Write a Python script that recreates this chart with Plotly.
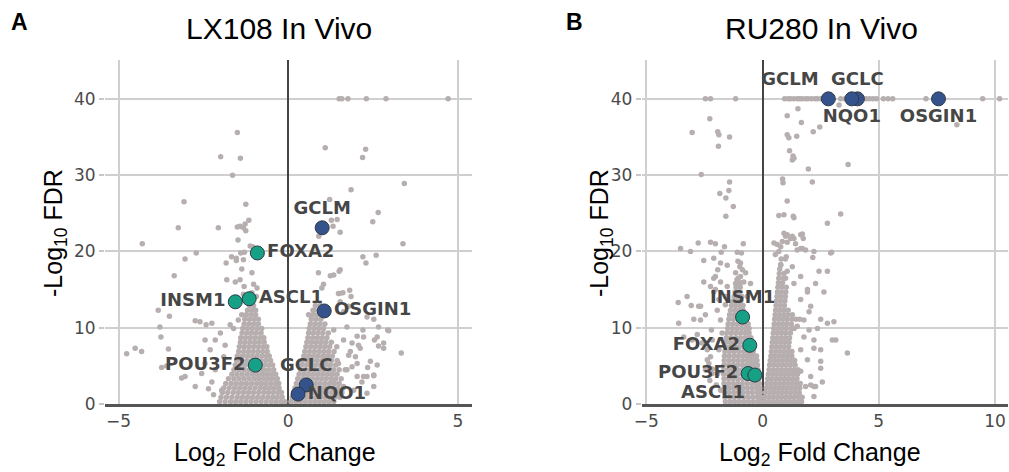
import plotly.graph_objects as go

# ---------------- DATA ----------------
# Highlighted genes: LX108 (panel A)
lx_genes = ["GCLM", "FOXA2", "INSM1", "ASCL1", "OSGIN1", "POU3F2", "GCLC", "NQO1"]
lx_lfc = [1.0, -0.91, -1.56, -1.15, 1.06, -0.97, 0.53, 0.29]
lx_fdr = [23.1, 19.8, 13.4, 13.8, 12.2, 5.1, 2.5, 1.3]
lx_group = ["nrf2", "ne", "ne", "ne", "nrf2", "ne", "nrf2", "nrf2"]
lx_textpos = ["top center", "middle right", "middle left", "middle right",
              "middle right", "middle left", "top center", "middle right"]

# Highlighted genes: RU280 (panel B)
ru_genes = ["GCLM", "GCLC", "NQO1", "OSGIN1", "INSM1", "FOXA2", "POU3F2", "ASCL1"]
ru_lfc = [2.83, 4.08, 3.84, 7.57, -0.86, -0.55, -0.62, -0.33]
ru_fdr = [40, 40, 40, 40, 11.4, 7.7, 4.0, 3.8]
ru_group = ["nrf2", "nrf2", "nrf2", "nrf2", "ne", "ne", "ne", "ne"]
ru_textpos = ["top left", "top center", "bottom center", "bottom center",
              "top center", "middle left", "middle left", "bottom left"]

# Background genes LX108: scattered outliers (log2FC, -log10 FDR)
lx_bg_outliers = [
    (1.50, 40), (1.58, 40), (1.76, 40), (2.30, 40), (2.88, 40), (4.71, 40),
    (-1.50, 35.6), (1.09, 33.6), (2.28, 33.4), (-1.99, 32.4), (-1.41, 32.2), (2.19, 32.3),
    (-1.64, 30.0), (1.85, 28.1), (3.42, 28.9), (-3.07, 26.5), (-1.25, 26.2), (1.22, 26.8),
    (2.65, 25.1), (2.49, 23.9), (1.44, 24.2), (1.27, 24.1), (1.32, 23.3), (1.53, 22.5),
    (0.90, 22.0), (-3.24, 23.1), (-2.06, 23.1), (-1.50, 23.2), (-1.42, 23.3), (-1.32, 23.1),
    (-1.25, 22.7), (-1.27, 23.6), (-1.16, 24.1), (-1.48, 21.5), (-4.30, 21.0), (3.38, 21.0),
    (-2.71, 19.8), (-3.04, 19.0), (-1.67, 19.3), (-1.53, 19.1), (-1.40, 19.8), (-1.29, 19.9),
    (-1.12, 20.7), (-1.04, 20.6), (2.20, 19.3), (2.59, 19.5), (-1.83, 18.5), (-1.53, 18.8),
    (-1.32, 18.9), (-1.37, 17.7), (-1.07, 17.2), (2.29, 18.5), (-3.36, 16.8), (0.89, 17.2),
    (1.34, 16.9), (1.50, 17.4), (-1.81, 16.3), (-1.56, 16.0), (-1.42, 16.3), (-1.30, 15.4),
    (-1.02, 15.7), (-0.92, 15.2), (-1.32, 14.4), (-1.07, 14.6), (-0.94, 14.1), (-3.83, 12.3),
    (-3.50, 11.5), (1.51, 14.5), (1.81, 14.9), (0.60, 11.7), (0.73, 12.3), (-2.74, 10.9),
    (-2.60, 10.8), (-2.42, 10.4), (-2.25, 10.6), (-3.78, 10.1), (-3.75, 8.8), (-3.53, 7.2),
    (-4.76, 6.6), (-4.51, 7.3), (-4.32, 6.9), (-3.73, 4.8), (-3.58, 5.0), (2.20, 9.7),
    (2.54, 8.4), (2.66, 7.6), (2.81, 7.3), (2.93, 9.7), (3.33, 6.7), (2.32, 3.6), (2.52, 3.7),
    (-3.04, 3.6), (-3.14, 3.4), (1.24, 16.8), (1.53, 17.6), (1.04, 15.7), (0.99, 15.2),
    (1.48, 14.5), (1.61, 14.6), (1.85, 14.1), (1.53, 13.4), (1.78, 12.8), (1.63, 12.1),
    (2.32, 11.4), (2.52, 11.1), (2.66, 10.1), (2.81, 8.0), (2.96, 9.6), (2.62, 8.8),
    (2.03, 8.9), (2.22, 8.8), (1.88, 8.0), (2.07, 7.7), (1.78, 6.4), (1.98, 6.2), (2.12, 7.3),
    (2.42, 5.6), (2.62, 5.1), (2.52, 3.8), (2.22, 3.6), (2.34, 4.8), (1.68, 4.5), (1.88, 4.9),
    (2.03, 3.6), (1.34, 9.7), (1.73, 10.1), (1.43, 7.5), (1.63, 8.4), (1.83, 6.9), (1.48, 5.3),
    (1.73, 4.5), (2.03, 5.3), (1.34, 3.1), (1.63, 2.3), (1.93, 1.8), (2.17, 2.9), (2.32, 1.4),
    (1.53, 1.0), (1.24, 0.8), (2.52, 2.3),
    (-2.15, 8.4), (-2.0, 9.3), (-1.86, 7.7), (-2.3, 7.1), (-2.45, 5.3), (-2.15, 4.5),
    (-2.55, 4.0), (-2.25, 2.9), (-1.96, 1.8), (-2.74, 2.3), (-1.61, 9.9), (-1.71, 10.4),
    (-1.47, 11.0), (-1.37, 11.7), (-2.45, 8.4), (-1.9, 6.2), (-2.2, 1.2), (-2.35, 2.0),
]

# Background genes LX108: dense core, rows of (-log10 FDR, [log2FC ...])
lx_bg_core = [
    (0.3, [-2.02, -1.86, -1.7, -1.55, -1.4, -1.25, -1.1, -0.95, -0.8, -0.65, -0.5, -0.36, -0.22, -0.1,
           0.08, 0.22, 0.36, 0.5, 0.64, 0.78, 0.92, 1.06, 1.2, 1.34]),
    (0.9, [-1.98, -1.82, -1.66, -1.5, -1.35, -1.2, -1.05, -0.9, -0.75, -0.6, -0.46, -0.32, -0.18,
           0.12, 0.26, 0.4, 0.54, 0.68, 0.82, 0.96, 1.1, 1.24, 1.38, 1.52]),
    (1.5, [-1.94, -1.78, -1.62, -1.47, -1.32, -1.17, -1.02, -0.87, -0.72, -0.58, -0.44, -0.3, -0.2,
           0.16, 0.3, 0.44, 0.58, 0.72, 0.86, 1.0, 1.14, 1.28, 1.42, 1.58]),
    (2.1, [-1.9, -1.74, -1.58, -1.43, -1.28, -1.13, -0.98, -0.83, -0.69, -0.55, -0.41, -0.27,
           0.2, 0.34, 0.48, 0.62, 0.76, 0.9, 1.04, 1.18, 1.32, 1.46, 1.62]),
    (2.7, [-1.84, -1.68, -1.53, -1.38, -1.23, -1.08, -0.93, -0.79, -0.65, -0.51, -0.37, -0.28,
           0.24, 0.38, 0.52, 0.66, 0.8, 0.94, 1.08, 1.22, 1.36, 1.5]),
    (3.3, [-1.76, -1.6, -1.45, -1.3, -1.15, -1.0, -0.86, -0.72, -0.58, -0.45, -0.32,
           0.28, 0.42, 0.56, 0.7, 0.84, 0.98, 1.12, 1.26, 1.4, 1.56]),
    (3.9, [-1.66, -1.51, -1.36, -1.21, -1.06, -0.92, -0.78, -0.64, -0.5, -0.37,
           0.32, 0.46, 0.6, 0.74, 0.88, 1.02, 1.16, 1.3, 1.44]),
    (4.5, [-1.6, -1.45, -1.3, -1.15, -1.0, -0.86, -0.72, -0.58, -0.43,
           0.36, 0.5, 0.64, 0.78, 0.92, 1.06, 1.2, 1.34, 1.5]),
    (5.1, [-1.56, -1.41, -1.26, -1.11, -0.97, -0.83, -0.69, -0.55, -0.46,
           0.4, 0.54, 0.68, 0.82, 0.96, 1.1, 1.24, 1.4]),
    (5.7, [-1.52, -1.37, -1.22, -1.08, -0.94, -0.8, -0.66, -0.52,
           0.43, 0.57, 0.71, 0.85, 0.99, 1.13, 1.27, 1.44]),
    (6.3, [-1.5, -1.35, -1.2, -1.06, -0.92, -0.78, -0.64, -0.56,
           0.46, 0.6, 0.74, 0.88, 1.02, 1.16, 1.3]),
    (6.9, [-1.46, -1.31, -1.17, -1.03, -0.89, -0.75, -0.62,
           0.49, 0.63, 0.77, 0.91, 1.05, 1.19, 1.35]),
    (7.5, [-1.44, -1.3, -1.16, -1.02, -0.88, -0.74, -0.63,
           0.52, 0.66, 0.8, 0.94, 1.08, 1.22]),
    (8.1, [-1.41, -1.27, -1.13, -0.99, -0.85, -0.71, 0.55, 0.69, 0.83, 0.97, 1.11, 1.27]),
    (8.7, [-1.4, -1.26, -1.12, -0.98, -0.84, -0.72, 0.58, 0.72, 0.86, 1.0, 1.14]),
    (9.3, [-1.36, -1.22, -1.08, -0.94, -0.8, 0.6, 0.74, 0.88, 1.02, 1.18]),
    (9.9, [-1.34, -1.2, -1.06, -0.92, -0.78, 0.62, 0.76, 0.9, 1.04]),
    (10.5, [-1.3, -1.16, -1.02, -0.88, 0.65, 0.79, 0.93, 1.08]),
    (11.1, [-1.28, -1.14, -1.0, -0.88, 0.68, 0.82, 0.96]),
    (11.7, [-1.24, -1.1, -0.96, 0.72, 0.86, 1.0]),
    (12.3, [-1.2, -1.06, -0.96, 0.76, 0.9]),
    (12.9, [-1.14, -1.02, 0.8, 0.94]),
]

# Background genes RU280: scattered outliers
ru_bg_outliers = [
    (-2.46, 40), (-2.24, 40), (-1.16, 40), (0.95, 40), (1.1, 40), (1.2, 40), (1.35, 40),
    (1.5, 40), (1.6, 40), (1.7, 40), (1.85, 40), (1.95, 40), (2.1, 40), (2.25, 40), (2.35, 40),
    (2.5, 40), (2.6, 40), (3.36, 40), (3.55, 40), (3.7, 40), (4.3, 40), (4.45, 40), (4.6, 40),
    (4.75, 40), (4.9, 40), (5.2, 40), (5.4, 40), (5.6, 40), (7.03, 40), (9.47, 40), (10.2, 40),
    (3.29, 39.2), (1.52, 38.7), (1.06, 37.8), (-2.27, 37.4), (1.67, 36.9), (2.46, 36.3),
    (2.18, 35.7), (8.36, 36.6), (-3.03, 35.6), (-1.93, 35.7), (-1.88, 35.3), (-1.42, 35.0),
    (1.06, 35.3), (1.13, 34.9), (1.47, 35.1), (-1.90, 33.8), (1.16, 33.2), (1.31, 32.5),
    (1.28, 32.0), (1.35, 32.2), (1.97, 30.8), (3.68, 31.4), (-2.64, 30.1), (0.86, 29.5),
    (0.88, 29.0), (2.14, 29.1), (-1.42, 29.1), (-1.45, 28.0), (-1.84, 27.6), (-1.58, 27.0),
    (-1.26, 25.9), (-1.58, 24.6), (1.06, 26.6), (0.70, 24.7), (0.92, 24.8), (1.32, 24.6),
    (1.35, 24.4), (3.36, 24.9), (2.79, 23.7), (0.92, 22.4), (1.06, 22.2), (1.28, 22.0),
    (1.71, 22.3), (1.35, 21.7), (-3.53, 20.4), (-3.10, 20.0), (-2.77, 21.1), (-2.24, 21.2),
    (-2.03, 21.0), (-1.64, 20.6), (-1.78, 19.9), (-1.09, 19.9), (-0.83, 21.0), (-0.91, 19.8),
    (0.63, 20.9), (0.85, 21.3), (0.99, 22.0), (1.21, 21.7), (1.64, 22.2), (1.75, 21.7),
    (1.49, 20.2), (1.71, 20.4), (2.21, 20.0), (2.97, 19.9), (1.02, 19.3), (2.16, 19.2),
    (-2.53, 18.8), (-2.10, 19.1), (-1.81, 18.5), (-1.52, 18.2), (-1.06, 18.7), (-0.98, 18.0),
    (-1.16, 17.2), (-0.87, 17.6), (-0.95, 16.7), (-0.81, 16.0), (-1.16, 15.8), (-1.93, 17.6),
    (-2.03, 16.7), (-1.81, 16.0), (-2.24, 15.4), (-2.53, 16.0), (-2.10, 14.7), (-3.63, 13.3),
    (-3.25, 14.1), (-3.07, 12.9), (-2.75, 12.8), (-3.61, 10.6), (-2.96, 11.1), (-2.67, 11.0),
    (-2.46, 11.7), (-3.39, 8.8), (-3.03, 8.4), (-2.81, 9.1), (-2.60, 8.0), (-2.38, 7.1),
    (-2.24, 6.2), (-2.31, 5.3), (-2.46, 4.5), (-2.17, 4.0), (0.49, 21.1), (0.78, 20.6),
    (1.06, 21.2), (1.42, 21.0), (1.64, 20.4), (1.85, 20.2), (2.93, 19.8), (0.78, 18.2),
    (1.06, 17.4), (1.28, 18.0), (0.99, 16.5), (1.35, 15.8), (1.64, 16.7), (1.93, 14.7),
    (2.43, 17.4), (2.79, 17.4), (2.64, 14.7), (2.07, 12.8), (2.0, 12.1), (2.36, 9.9),
    (3.07, 10.8), (3.15, 8.4), (3.65, 6.7), (3.0, 8.4), (2.5, 5.6), (2.28, 2.3), (2.07, 2.5),
    (1.57, 1.4), (2.5, 7.1), (2.21, 7.3),
    (-2.38, 5.8), (-2.16, 4.6), (-1.93, 4.0), (-2.27, 3.1), (-1.99, 2.5), (-1.81, 1.8),
    (-1.88, 7.1), (-2.16, 8.4), (-1.74, 9.3), (-2.2, 9.7), (-1.81, 11.0), (-1.95, 12.3),
    (-1.6, 13.0), (-0.66, 14.1), (-0.52, 15.8), (-0.73, 17.2), (-0.95, 18.5), (-2.67, 12.8),
    (-1.88, 13.7), (-1.6, 14.1), (-1.52, 15.4), (-2.03, 15.0), (-1.1, 16.3), (-2.1, 16.5),
    (1.78, 8.8), (1.64, 7.1), (1.93, 5.8), (1.64, 4.3), (2.07, 3.6), (1.85, 2.3), (2.21, 1.0),
    (2.5, 4.7), (1.49, 10.2), (1.78, 11.0), (2.0, 9.7), (2.21, 8.4), (1.64, 13.7), (1.93, 15.0),
    (2.28, 15.8), (2.5, 11.1), (2.79, 10.6), (2.57, 2.9), (2.21, 2.3), (0.55, 19.6), (0.7, 20.0),
]

# Background genes RU280: dense core rows
ru_bg_core = [
    (0.3, [-1.6, -1.4, -1.2, -1.0, -0.8, -0.6, -0.4, -0.2, -0.05,
           0.08, 0.26, 0.44, 0.62, 0.8, 0.98, 1.16, 1.34, 1.52, 1.68]),
    (0.9, [-1.62, -1.42, -1.22, -1.02, -0.82, -0.62, -0.42, -0.22, -0.08,
           0.1, 0.28, 0.46, 0.64, 0.82, 1.0, 1.18, 1.36, 1.54, 1.7]),
    (1.5, [-1.64, -1.44, -1.24, -1.04, -0.84, -0.64, -0.44, -0.24, -0.1,
           0.13, 0.31, 0.49, 0.67, 0.85, 1.03, 1.21, 1.39, 1.57]),
    (2.1, [-1.65, -1.45, -1.25, -1.05, -0.85, -0.65, -0.45, -0.26, -0.12,
           0.16, 0.34, 0.52, 0.7, 0.88, 1.06, 1.24, 1.42, 1.6]),
    (2.7, [-1.66, -1.46, -1.26, -1.06, -0.86, -0.66, -0.46, -0.28, -0.14,
           0.19, 0.37, 0.55, 0.73, 0.91, 1.09, 1.27, 1.45, 1.62]),
    (3.3, [-1.66, -1.46, -1.26, -1.06, -0.86, -0.66, -0.46, -0.3, -0.16,
           0.22, 0.4, 0.58, 0.76, 0.94, 1.12, 1.3, 1.48]),
    (3.9, [-1.67, -1.47, -1.27, -1.07, -0.87, -0.67, -0.48, -0.32, -0.18,
           0.25, 0.43, 0.61, 0.79, 0.97, 1.15, 1.33, 1.5]),
    (4.5, [-1.67, -1.47, -1.27, -1.07, -0.87, -0.67, -0.49, -0.33, -0.2,
           0.28, 0.46, 0.64, 0.82, 1.0, 1.18, 1.36, 1.52]),
    (5.1, [-1.66, -1.46, -1.26, -1.06, -0.86, -0.66, -0.5, -0.35, -0.22,
           0.3, 0.48, 0.66, 0.84, 1.02, 1.2, 1.4]),
    (5.7, [-1.65, -1.45, -1.25, -1.05, -0.85, -0.66, -0.5, -0.36, -0.24,
           0.33, 0.51, 0.69, 0.87, 1.05, 1.23, 1.38]),
    (6.3, [-1.64, -1.44, -1.24, -1.04, -0.84, -0.66, -0.5, -0.38, -0.26,
           0.36, 0.54, 0.72, 0.9, 1.08, 1.26]),
    (6.9, [-1.62, -1.42, -1.22, -1.02, -0.82, -0.64, -0.5, -0.4,
           0.38, 0.56, 0.74, 0.92, 1.1, 1.26]),
    (7.5, [-1.6, -1.4, -1.2, -1.0, -0.8, -0.64, -0.5, -0.42,
           0.4, 0.58, 0.76, 0.94, 1.12]),
    (8.1, [-1.58, -1.38, -1.18, -0.98, -0.78, -0.62, -0.48, 0.42, 0.6, 0.78, 0.96, 1.14]),
    (8.7, [-1.56, -1.36, -1.16, -0.96, -0.76, -0.6, -0.5, 0.44, 0.62, 0.8, 0.98, 1.16]),
    (9.3, [-1.54, -1.34, -1.14, -0.94, -0.74, -0.58, 0.46, 0.64, 0.82, 1.0, 1.2]),
    (9.9, [-1.5, -1.3, -1.1, -0.9, -0.72, -0.58, 0.48, 0.66, 0.84, 1.02, 1.22, 1.36]),
    (10.5, [-1.48, -1.28, -1.08, -0.9, -0.72, -0.62, 0.5, 0.68, 0.86, 1.04, 1.24]),
    (11.1, [-1.45, -1.25, -1.05, -0.87, -0.7, 0.52, 0.7, 0.88, 1.06, 1.26, 1.44, 1.6]),
    (11.7, [-1.42, -1.22, -1.02, -0.85, -0.7, 0.54, 0.72, 0.9, 1.08, 1.28]),
    (12.3, [-1.38, -1.18, -1.0, -0.84, 0.56, 0.74, 0.92, 1.1]),
    (12.9, [-1.34, -1.16, -0.98, -0.84, 0.58, 0.76, 0.94]),
    (13.5, [-1.28, -1.1, -0.94, 0.6, 0.78, 0.96]),
    (14.1, [-1.22, -1.05, -0.9, 0.62, 0.8, 0.98]),
    (14.7, [-1.18, -1.0, 0.64, 0.82, 1.0]),
    (15.3, [-1.14, -0.96, 0.66, 0.84, 1.02]),
    (15.9, [-1.1, -0.95, 0.68, 0.86]),
    (16.5, [-1.05, 0.7, 0.9]),
    (17.1, [0.72, 0.92]),
    (17.7, [0.74]),
    (18.3, [0.78]),
    (19.0, [0.8, 0.98]),
]

# Axis ticks
x1_ticks = [-5, 0, 5]
x2_ticks = [-5, 0, 5, 10]
y_ticks = [0, 10, 20, 30, 40]

# ---------------- STYLE ----------------
GREY = "#b7afaf"
TEAL = "#16a085"
NAVY = "#34528c"
LABEL_C = "#464646"
TICK_FONT = dict(family="DejaVu Sans", size=17, color="#4a4a4a")

FIG_W, FIG_H = 1009, 472


def flatten(outliers, core):
    xs, ys = [], []
    for x, y in outliers:
        xs.append(x)
        ys.append(y)
    for y, row in core:
        for x in row:
            xs.append(x)
            ys.append(y)
    return xs, ys


fig = go.Figure()

for (outl, core, xa, ya) in [(lx_bg_outliers, lx_bg_core, "x", "y"),
                             (ru_bg_outliers, ru_bg_core, "x2", "y2")]:
    bx, by = flatten(outl, core)
    fig.add_trace(go.Scatter(x=bx, y=by, mode="markers", xaxis=xa, yaxis=ya,
                             marker=dict(size=5.5, color=GREY, line=dict(width=0)),
                             hoverinfo="skip", showlegend=False))

for (genes, lfc, fdr, grp, tpos, xa, ya) in [
        (lx_genes, lx_lfc, lx_fdr, lx_group, lx_textpos, "x", "y"),
        (ru_genes, ru_lfc, ru_fdr, ru_group, ru_textpos, "x2", "y2")]:
    fig.add_trace(go.Scatter(
        x=lfc, y=fdr, mode="markers+text", text=genes, textposition=tpos,
        xaxis=xa, yaxis=ya, cliponaxis=False,
        marker=dict(size=14, color=[TEAL if g == "ne" else NAVY for g in grp],
                    line=dict(width=1, color="#2f3a45")),
        textfont=dict(family="DejaVu Sans", size=18, color=LABEL_C, weight="bold"),
        showlegend=False))

common_x = dict(showgrid=True, gridcolor="#cfcfcf", gridwidth=1.5,
                zeroline=True, zerolinecolor="#444444", zerolinewidth=1.5,
                showline=True, linecolor="#555555", linewidth=2.5,
                ticks="", tickfont=TICK_FONT, fixedrange=True)
common_y = dict(showgrid=True, gridcolor="#cfcfcf", gridwidth=1.5, zeroline=False,
                ticks="outside", ticklen=5, tickcolor="#c8c8c8", tickwidth=1.5,
                tickfont=TICK_FONT, tickvals=y_ticks, range=[0, 45.1], fixedrange=True)

YDOM = [0.144, 0.873]
fig.update_layout(
    width=FIG_W, height=FIG_H,
    margin=dict(l=0, r=0, t=0, b=0, autoexpand=False),
    paper_bgcolor="white", plot_bgcolor="white",
    xaxis=dict(domain=[0.104, 0.468], range=[-5.4, 5.42], tickvals=x1_ticks, anchor="y", **common_x),
    yaxis=dict(domain=YDOM, anchor="x", **common_y),
    xaxis2=dict(domain=[0.636, 0.999], range=[-5.2, 10.56], tickvals=x2_ticks, anchor="y2", **common_x),
    yaxis2=dict(domain=YDOM, anchor="x2", **common_y),
)

TITLE_FONT = dict(family="Liberation Sans, Arial", size=30, color="black")
AX_FONT = dict(family="Liberation Sans, Arial", size=25, color="black")
LET_FONT = dict(family="Liberation Sans, Arial", size=23, color="black", weight="bold")

annots = [
    dict(text="A", x=0.0198, y=0.9534, font=LET_FONT),
    dict(text="B", x=0.569, y=0.9534, font=LET_FONT),
    dict(text="LX108 In Vivo", x=0.2765, y=0.9386, font=TITLE_FONT),
    dict(text="RU280 In Vivo", x=0.8137, y=0.9386, font=TITLE_FONT),
    dict(text="Log<sub>2</sub> Fold Change", x=0.2725, y=0.038, font=AX_FONT),
    dict(text="Log<sub>2</sub> Fold Change", x=0.8127, y=0.038, font=AX_FONT),
    dict(text="-Log<sub>10</sub> FDR", x=0.0545, y=0.5064, font=AX_FONT, textangle=-90),
    dict(text="-Log<sub>10</sub> FDR", x=0.5957, y=0.5064, font=AX_FONT, textangle=-90),
]
for a in annots:
    fig.add_annotation(xref="paper", yref="paper", showarrow=False,
                       xanchor="center", yanchor="middle", **a)

# Remove the default page margin so the 1009x472 figure fills the window exactly.
fig.write_html("out.html",
               config={"displayModeBar": False},
               post_script="document.body.style.margin='0';document.body.style.overflow='hidden';")
